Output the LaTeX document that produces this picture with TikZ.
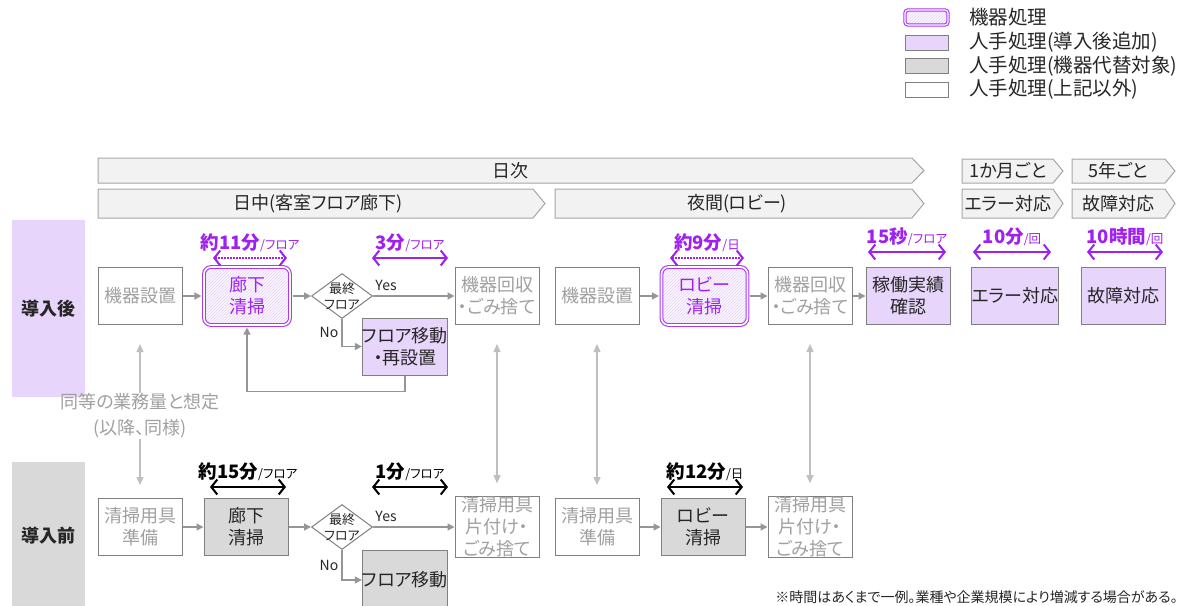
\documentclass[tikz,border=0pt]{standalone}
\usepackage{fontspec}
\setmainfont{Noto Sans CJK JP}[RawFeature=+palt]
\usetikzlibrary{shapes,arrows.meta,patterns}

\definecolor{mline}{RGB}{172,56,240}
\definecolor{mtext}{RGB}{160,32,240}
\definecolor{mfill}{RGB}{251,247,254}
\definecolor{mhatch}{RGB}{230,210,250}
\definecolor{pfill}{RGB}{232,213,251}
\definecolor{gfill}{RGB}{217,217,217}
\definecolor{boxline}{RGB}{128,128,128}
\definecolor{softtext}{RGB}{160,160,160}
\definecolor{flowline}{RGB}{150,150,150}
\definecolor{linkline}{RGB}{191,191,191}
\definecolor{hdrfill}{RGB}{242,242,242}
\definecolor{hdrline}{RGB}{166,166,166}
\definecolor{ink}{RGB}{38,38,38}

\newcommand{\nodefont}{\fontsize{18}{22}\selectfont}
\newcommand{\unitfont}{\fontsize{12.5}{14}\selectfont\mdseries}

\begin{document}
\begin{tikzpicture}[x=1pt,y=-1pt,
  box/.style={draw=boxline,line width=1pt,minimum width=84pt,minimum height=57pt,align=center,font=\nodefont,text=ink},
  plainbox/.style={box,fill=white,text=softtext},
  grbox/.style={box,fill=gfill},
  prbox/.style={box,fill=pfill},
  machbox/.style={box,minimum width=86pt,minimum height=58pt,rounded corners=7pt,preaction={fill=mfill},pattern=north east lines,pattern color=mhatch,draw=mline,double=white,double distance=1.6pt,line width=1.1pt,text=mtext},
  decision/.style={diamond,draw=boxline,line width=1pt,fill=white,minimum width=61pt,minimum height=45pt},
  dtext/.style={font=\fontsize{13}{16}\selectfont,align=center,text=ink},
  band/.style={minimum width=73pt,font=\bfseries\nodefont,text=ink},
  hdr/.style={fill=hdrfill,draw=hdrline,line width=1pt},
  hdrtext/.style={font=\fontsize{18}{20}\selectfont,text=ink},
  legtext/.style={font=\fontsize{19.5}{21}\selectfont,text=ink,anchor=west},
  edgelbl/.style={font=\fontsize{14}{16}\selectfont,text=ink},
  flow/.style={draw=flowline,line width=1.3pt,-{Triangle[length=7pt,width=7pt]}},
  link/.style={draw=linkline,line width=1.3pt,-{Triangle[length=8pt,width=7pt]}},
  twolink/.style={link,{Triangle[length=8pt,width=7pt]}-{Triangle[length=8pt,width=7pt]}},
  pdur/.style={draw=mtext,line width=2pt,{Straight Barb[length=6pt,width=15pt,line width=2pt]}-{Straight Barb[length=6pt,width=15pt,line width=2pt]}},
  pdot/.style={pdur,line width=1.5pt,dash pattern=on 1.5pt off 1.5pt},
  kdur/.style={pdur,draw=black},
  durlbl/.style={font=\bfseries\fontsize{18.5}{22}\selectfont,text=mtext},
  kdurlbl/.style={durlbl,text=black}]
\tikzstyle{every node}+=[inner sep=0pt]
\useasboundingbox (0,0) rectangle (1188,605);
\clip (0,0) rectangle (1188,605);

\node[band,fill=pfill,minimum height=177pt] (after) at (48.5,308.5) {導入後};
\node[band,fill=gfill,minimum height=148pt] (before) at (48.5,536) {導入前};

\draw[hdr] (98,158) -- (912,158) -- (924,170.5) -- (912,183) -- (98,183) -- cycle;
\node[hdrtext] (daily) at (510,171) {日次};
\draw[hdr] (98,189) -- (533,189) -- (545,203.5) -- (533,218) -- (98,218) -- cycle;
\node[hdrtext] (daytime) at (318,204) {日中(客室フロア廊下)};
\draw[hdr] (555,189) -- (912,189) -- (924,203.5) -- (912,218) -- (555,218) -- cycle;
\node[hdrtext] (nighttime) at (737,204) {夜間(ロビー)};
\draw[hdr] (962,159) -- (1053,159) -- (1063,171) -- (1053,183) -- (962,183) -- cycle;
\node[hdrtext] (monthly) at (1008,171) {1か月ごと};
\draw[hdr] (1072,159) -- (1165,159) -- (1175,171) -- (1165,183) -- (1072,183) -- cycle;
\node[hdrtext] (fiveyear) at (1118,171) {5年ごと};
\draw[hdr] (962,189) -- (1053,189) -- (1063,203.5) -- (1053,218) -- (962,218) -- cycle;
\node[hdrtext] (errhdr) at (1008,204) {エラー対応};
\draw[hdr] (1072,189) -- (1165,189) -- (1175,203.5) -- (1165,218) -- (1072,218) -- cycle;
\node[hdrtext] (failhdr) at (1118,204) {故障対応};

\node[machbox,minimum width=43pt,minimum height=15pt,rounded corners=3pt,double distance=1.2pt] (lgmach) at (926.5,17.5) {};
\node[prbox,minimum width=43pt,minimum height=15pt] (lgadd) at (926.5,42.5) {};
\node[grbox,minimum width=43pt,minimum height=15pt] (lgsub) at (926.5,66) {};
\node[plainbox,minimum width=43pt,minimum height=15pt] (lgother) at (926.5,89.5) {};
\node[legtext] (lgmachtxt) at (969,17.5) {機器処理};
\node[legtext] (lgaddtxt) at (969,42.5) {人手処理(導入後追加)};
\node[legtext] (lgsubtxt) at (969,66) {人手処理(機器代替対象)};
\node[legtext] (lgothertxt) at (969,89.5) {人手処理(上記以外)};

\node[plainbox] (set1) at (140,296) {機器設置};
\node[machbox] (clean1) at (247,296) {廊下\\清掃};
\node[decision,label={[dtext]center:最終\\フロア}] (dia1) at (342,296) {};
\node[prbox] (move1) at (405,346.5) {フロア移動\\・再設置};
\node[plainbox] (collect1) at (497,296) {機器回収\\・ごみ捨て};
\node[plainbox] (set2) at (597,296) {機器設置};
\node[machbox] (clean2) at (704.5,296) {ロビー\\清掃};
\node[plainbox] (collect2) at (810,296) {機器回収\\・ごみ捨て};
\node[prbox] (check) at (908,296) {稼働実績\\確認};
\node[prbox] (err) at (1015,296) {エラー対応};
\node[prbox] (fail) at (1123.5,296) {故障対応};

\node[plainbox] (prep1) at (140,527) {清掃用具\\準備};
\node[grbox] (bclean1) at (246,527) {廊下\\清掃};
\node[decision,label={[dtext]center:最終\\フロア}] (bdia1) at (342,527) {};
\node[grbox,minimum height=60pt] (bmove1) at (405,580) {フロア移動};
\node[plainbox] (tidy1) at (497,527) {清掃用具\\片付け・\\ごみ捨て};
\node[plainbox] (prep2) at (597,527) {清掃用具\\準備};
\node[grbox] (bclean2) at (703,527) {ロビー\\清掃};
\node[plainbox] (tidy2) at (810,527) {清掃用具\\片付け・\\ごみ捨て};

\draw[flow,shorten >=2pt] (set1) -- (clean1);
\draw[flow,shorten <=2pt] (clean1) -- (dia1);
\draw[flow] (dia1) -- node[edgelbl,pos=0.16,above=5pt] (yes1) {Yes} (collect1);
\draw[flow] (dia1.south) |- node[edgelbl,pos=0.25,left=3pt] (no1) {No} (move1.west);
\draw[flow,shorten >=2pt] (move1.south) -- ++(0,16) -| (clean1.south);
\draw[flow,shorten >=2pt] (set2) -- (clean2);
\draw[flow,shorten <=2pt] (clean2) -- (collect2);
\draw[flow] (collect2) -- (check);

\draw[flow] (prep1) -- (bclean1);
\draw[flow] (bclean1) -- (bdia1);
\draw[flow] (bdia1) -- node[edgelbl,pos=0.16,above=5pt] (yes2) {Yes} (tidy1);
\draw[flow] (bdia1.south) |- node[edgelbl,pos=0.25,left=3pt] (no2) {No} (bmove1.west);
\draw[flow] (prep2) -- (bclean2);
\draw[flow] (bclean2) -- (tidy2);

\node[font=\fontsize{18}{26}\selectfont,text=softtext,align=center] (same) at (140,416) {同等の業務量と想定\\(以降、同様)};
\draw[link,shorten >=19pt] (same.north) -- (set1.south);
\draw[link,shorten >=13pt] (same.south) -- (prep1.north);
\draw[twolink,shorten <=19pt,shorten >=13pt] (collect1.south) -- (tidy1.north);
\draw[twolink,shorten <=19pt,shorten >=13pt] (set2.south) -- (prep2.north);
\draw[twolink,shorten <=19pt,shorten >=13pt] (collect2.south) -- (tidy2.north);

\node[durlbl] (t1) at (250,243) {約11分{\unitfont/フロア}};
\draw[pdot] ([shift={(-37,15)}]t1.center) -- ([shift={(37,15)}]t1.center);
\node[durlbl] (t2) at (410,243) {3分{\unitfont/フロア}};
\draw[pdur] ([shift={(-38,15)}]t2.center) -- ([shift={(38,15)}]t2.center);
\node[durlbl] (t3) at (707,243) {約9分{\unitfont/日}};
\draw[pdot] ([shift={(-37,15)}]t3.center) -- ([shift={(37,15)}]t3.center);
\node[durlbl] (t4) at (907,237) {15秒{\unitfont/フロア}};
\draw[pdur] ([shift={(-39,15)}]t4.center) -- ([shift={(39,15)}]t4.center);
\node[durlbl] (t5) at (1012,237) {10分{\unitfont/回}};
\draw[pdur] ([shift={(-39,15)}]t5.center) -- ([shift={(39,15)}]t5.center);
\node[durlbl] (t6) at (1125,237) {10時間{\unitfont/回}};
\draw[pdur] ([shift={(-38,15)}]t6.center) -- ([shift={(38,15)}]t6.center);

\node[kdurlbl] (b1) at (248,472) {約15分{\unitfont/フロア}};
\draw[kdur] ([shift={(-38,15)}]b1.center) -- ([shift={(38,15)}]b1.center);
\node[kdurlbl] (b2) at (410,472) {1分{\unitfont/フロア}};
\draw[kdur] ([shift={(-38,15)}]b2.center) -- ([shift={(38,15)}]b2.center);
\node[kdurlbl] (b3) at (705,472) {約12分{\unitfont/日}};
\draw[kdur] ([shift={(-38,15)}]b3.center) -- ([shift={(38,15)}]b3.center);

\node[font=\fontsize{14}{16}\selectfont,text=ink,anchor=east] (note) at (1178,597) {※時間はあくまで一例。業種や企業規模により増減する場合がある。};
\end{tikzpicture}
\end{document}
